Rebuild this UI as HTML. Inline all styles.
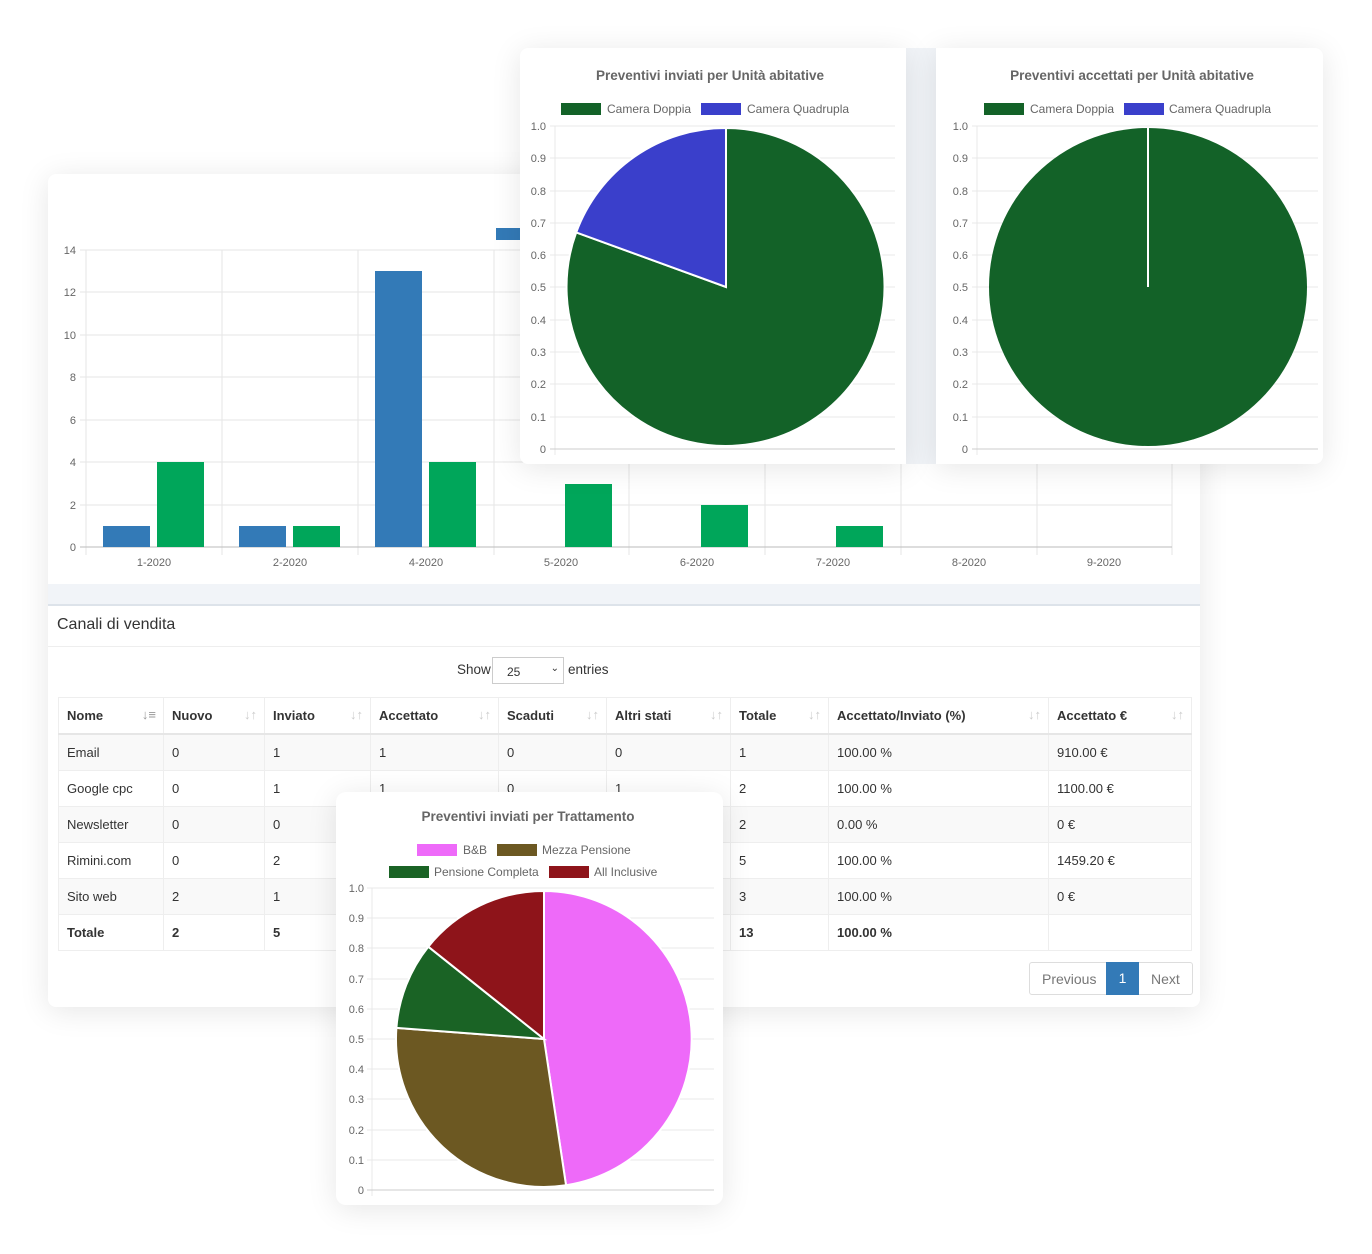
<!DOCTYPE html>
<html><head><meta charset="utf-8"><style>
body{margin:0;width:1372px;height:1254px;background:#fff;position:relative;overflow:hidden;font-family:"Liberation Sans",sans-serif}
.card{position:absolute;background:#fff;border-radius:10px;box-shadow:0 4px 30px rgba(0,0,0,0.10)}
svg text{font-family:"Liberation Sans",sans-serif}
table{border-collapse:collapse;position:absolute;left:10px;top:93px;font-size:13px;color:#333;table-layout:fixed;width:1133px}
td,th{border:1px solid #eee;padding:0 8px;height:35px;text-align:left;white-space:nowrap;overflow:hidden}
th{font-weight:bold;border-bottom:2px solid #e6e6e6;position:relative}
th span{position:absolute;right:7px;top:9px;color:#ccc;font-size:13px}
tr.s td{background:#f9f9f9}
</style></head><body>
<div class="card" style="left:48px;top:174px;width:1152px;height:833px;border-radius:8px">
<svg width="1152" height="410" style="position:absolute;left:0;top:0">
<g transform="translate(-48,-174)" font-size="11" fill="#666">
<rect x="496" y="228" width="26" height="12" fill="#337ab7"/>
<g stroke="#e6e6e6" stroke-width="1">
<line x1="80" y1="250" x2="1172" y2="250"/><line x1="80" y1="292" x2="1172" y2="292"/><line x1="80" y1="335" x2="1172" y2="335"/><line x1="80" y1="377" x2="1172" y2="377"/><line x1="80" y1="420" x2="1172" y2="420"/><line x1="80" y1="462" x2="1172" y2="462"/><line x1="80" y1="505" x2="1172" y2="505"/>
<line x1="222" y1="250" x2="222" y2="555"/><line x1="358" y1="250" x2="358" y2="555"/><line x1="494" y1="250" x2="494" y2="555"/><line x1="629" y1="250" x2="629" y2="555"/><line x1="765" y1="250" x2="765" y2="555"/><line x1="901" y1="250" x2="901" y2="555"/><line x1="1037" y1="250" x2="1037" y2="555"/><line x1="1172" y1="250" x2="1172" y2="555"/>
<line x1="86" y1="250" x2="86" y2="555"/>
</g>
<line x1="80" y1="547" x2="1172" y2="547" stroke="#bbb"/>
<g text-anchor="end"><text x="76" y="254">14</text><text x="76" y="296">12</text><text x="76" y="339">10</text><text x="76" y="381">8</text><text x="76" y="424">6</text><text x="76" y="466">4</text><text x="76" y="509">2</text><text x="76" y="551">0</text></g>
<g fill="#337ab7"><rect x="103" y="526" width="47" height="21"/><rect x="239" y="526" width="47" height="21"/><rect x="375" y="271" width="47" height="276"/></g>
<g fill="#00a65a"><rect x="157" y="462" width="47" height="85"/><rect x="293" y="526" width="47" height="21"/><rect x="429" y="462" width="47" height="85"/><rect x="565" y="484" width="47" height="63"/><rect x="701" y="505" width="47" height="42"/><rect x="836" y="526" width="47" height="21"/></g>
<g text-anchor="middle"><text x="154" y="566">1-2020</text><text x="290" y="566">2-2020</text><text x="426" y="566">4-2020</text><text x="561" y="566">5-2020</text><text x="697" y="566">6-2020</text><text x="833" y="566">7-2020</text><text x="969" y="566">8-2020</text><text x="1104" y="566">9-2020</text></g>
</g></svg>
<div style="position:absolute;left:0;top:410px;width:1152px;height:20px;background:#f1f4f8;border-bottom:2px solid #dde3ea"></div>
<div style="position:absolute;left:9px;top:442px;font-size:16px;color:#333">Canali di vendita</div>
<div style="position:absolute;left:0;top:472px;width:1152px;border-top:1px solid #eee"></div>
<div style="position:absolute;left:409px;top:488px;font-size:13.5px;color:#333">Show</div>
<div style="position:absolute;left:444px;top:483px;width:72px;height:27px;border:1px solid #ccc;box-sizing:border-box;font-size:12px;color:#333;padding:7px 0 0 14px">25<span style="position:absolute;right:4px;top:5px;font-size:10px">&#8964;</span></div>
<div style="position:absolute;left:520px;top:488px;font-size:13.5px;color:#333">entries</div>
<table style="top:523px">
<colgroup><col style="width:105px"><col style="width:101px"><col style="width:106px"><col style="width:128px"><col style="width:108px"><col style="width:124px"><col style="width:98px"><col style="width:220px"><col style="width:143px"></colgroup>
<tr><th>Nome<span style="color:#999">↓≡</span></th><th>Nuovo<span>↓↑</span></th><th>Inviato<span>↓↑</span></th><th>Accettato<span>↓↑</span></th><th>Scaduti<span>↓↑</span></th><th>Altri stati<span>↓↑</span></th><th>Totale<span>↓↑</span></th><th>Accettato/Inviato (%)<span>↓↑</span></th><th>Accettato €<span>↓↑</span></th></tr>
<tr class="s"><td>Email</td><td>0</td><td>1</td><td>1</td><td>0</td><td>0</td><td>1</td><td>100.00 %</td><td>910.00 €</td></tr>
<tr><td>Google cpc</td><td>0</td><td>1</td><td>1</td><td>0</td><td>1</td><td>2</td><td>100.00 %</td><td>1100.00 €</td></tr>
<tr class="s"><td>Newsletter</td><td>0</td><td>0</td><td>0</td><td>0</td><td>2</td><td>2</td><td>0.00 %</td><td>0 €</td></tr>
<tr><td>Rimini.com</td><td>0</td><td>2</td><td>2</td><td>0</td><td>1</td><td>5</td><td>100.00 %</td><td>1459.20 €</td></tr>
<tr class="s"><td>Sito web</td><td>2</td><td>1</td><td>1</td><td>0</td><td>0</td><td>3</td><td>100.00 %</td><td>0 €</td></tr>
<tr style="font-weight:bold"><td>Totale</td><td>2</td><td>5</td><td>5</td><td>0</td><td>4</td><td>13</td><td>100.00 %</td><td></td></tr>
</table>
<div style="position:absolute;left:981px;top:788px;width:164px;height:33px;border:1px solid #ddd;border-radius:3px;font-size:14px;color:#777;box-sizing:border-box">
<span style="position:absolute;left:12px;top:8px">Previous</span>
<span style="position:absolute;left:76px;top:-1px;width:33px;height:33px;background:#337ab7;color:#fff;text-align:center;line-height:33px">1</span>
<span style="position:absolute;left:121px;top:8px">Next</span></div>
</div>

<div style="position:absolute;left:906px;top:48px;width:30px;height:416px;background:#f1f4f8"></div>
<div class="card" style="left:520px;top:48px;width:386px;height:416px;border-radius:8px 0 0 8px"></div>
<div class="card" style="left:936px;top:48px;width:387px;height:416px;border-radius:0 8px 8px 0"></div>
<div class="card" style="left:336px;top:792px;width:387px;height:413px"></div>
<svg width="1372" height="1254" style="position:absolute;left:0;top:0" font-size="11" fill="#666">
<text x="710" y="80" text-anchor="middle" font-weight="bold" font-size="13.5" fill="#666">Preventivi inviati per Unità abitative</text>
<g font-size="12"><rect x="561" y="103" width="40" height="12" fill="#136228"/><text x="607" y="113">Camera Doppia</text>
<rect x="701" y="103" width="40" height="12" fill="#3a3fcb"/><text x="747" y="113">Camera Quadrupla</text></g>
<g stroke="#e8e8e8"><line x1="550" y1="126" x2="895" y2="126"/><line x1="550" y1="158" x2="895" y2="158"/><line x1="550" y1="191" x2="895" y2="191"/><line x1="550" y1="223" x2="895" y2="223"/><line x1="550" y1="255" x2="895" y2="255"/><line x1="550" y1="287" x2="895" y2="287"/><line x1="550" y1="320" x2="895" y2="320"/><line x1="550" y1="352" x2="895" y2="352"/><line x1="550" y1="384" x2="895" y2="384"/><line x1="550" y1="417" x2="895" y2="417"/><line x1="555" y1="126" x2="555" y2="455"/></g>
<line x1="550" y1="449" x2="895" y2="449" stroke="#ccc"/>
<g text-anchor="end"><text x="546" y="130">1.0</text><text x="546" y="162">0.9</text><text x="546" y="195">0.8</text><text x="546" y="227">0.7</text><text x="546" y="259">0.6</text><text x="546" y="291">0.5</text><text x="546" y="324">0.4</text><text x="546" y="356">0.3</text><text x="546" y="388">0.2</text><text x="546" y="421">0.1</text><text x="546" y="453">0</text></g>
<path d="M726,287 L726,128 A159,159 0 1 1 576.2,232.4 Z" fill="#136228" stroke="#fff" stroke-width="2"/>
<path d="M726,287 L576.2,232.4 A159,159 0 0 1 726,128 Z" fill="#3a3fcb" stroke="#fff" stroke-width="2"/>
<text x="1132" y="80" text-anchor="middle" font-weight="bold" font-size="13.5" fill="#666">Preventivi accettati per Unità abitative</text>
<g font-size="12"><rect x="984" y="103" width="40" height="12" fill="#136228"/><text x="1030" y="113">Camera Doppia</text>
<rect x="1124" y="103" width="40" height="12" fill="#3a3fcb"/><text x="1169" y="113">Camera Quadrupla</text></g>
<g stroke="#e8e8e8"><line x1="972" y1="126" x2="1318" y2="126"/><line x1="972" y1="158" x2="1318" y2="158"/><line x1="972" y1="191" x2="1318" y2="191"/><line x1="972" y1="223" x2="1318" y2="223"/><line x1="972" y1="255" x2="1318" y2="255"/><line x1="972" y1="287" x2="1318" y2="287"/><line x1="972" y1="320" x2="1318" y2="320"/><line x1="972" y1="352" x2="1318" y2="352"/><line x1="972" y1="384" x2="1318" y2="384"/><line x1="972" y1="417" x2="1318" y2="417"/><line x1="977" y1="126" x2="977" y2="455"/></g>
<line x1="972" y1="449" x2="1318" y2="449" stroke="#ccc"/>
<g text-anchor="end"><text x="968" y="130">1.0</text><text x="968" y="162">0.9</text><text x="968" y="195">0.8</text><text x="968" y="227">0.7</text><text x="968" y="259">0.6</text><text x="968" y="291">0.5</text><text x="968" y="324">0.4</text><text x="968" y="356">0.3</text><text x="968" y="388">0.2</text><text x="968" y="421">0.1</text><text x="968" y="453">0</text></g>
<circle cx="1148" cy="287" r="159" fill="#136228"/>
<line x1="1148" y1="128" x2="1148" y2="287" stroke="#fff" stroke-width="2"/>
<text x="528" y="821" text-anchor="middle" font-weight="bold" font-size="13.5" fill="#666">Preventivi inviati per Trattamento</text>
<g font-size="12"><rect x="417" y="844" width="40" height="12" fill="#ee6af9"/><text x="463" y="854">B&amp;B</text>
<rect x="497" y="844" width="40" height="12" fill="#6c5822"/><text x="542" y="854">Mezza Pensione</text>
<rect x="389" y="866" width="40" height="12" fill="#1a6325"/><text x="434" y="876">Pensione Completa</text>
<rect x="549" y="866" width="40" height="12" fill="#8e141a"/><text x="594" y="876">All Inclusive</text></g>
<g stroke="#e8e8e8"><line x1="367" y1="888" x2="714" y2="888"/><line x1="367" y1="918" x2="714" y2="918"/><line x1="367" y1="948" x2="714" y2="948"/><line x1="367" y1="979" x2="714" y2="979"/><line x1="367" y1="1009" x2="714" y2="1009"/><line x1="367" y1="1039" x2="714" y2="1039"/><line x1="367" y1="1069" x2="714" y2="1069"/><line x1="367" y1="1099" x2="714" y2="1099"/><line x1="367" y1="1130" x2="714" y2="1130"/><line x1="367" y1="1160" x2="714" y2="1160"/><line x1="372" y1="888" x2="372" y2="1196"/></g>
<line x1="367" y1="1190" x2="714" y2="1190" stroke="#ccc"/>
<g text-anchor="end"><text x="364" y="892">1.0</text><text x="364" y="922">0.9</text><text x="364" y="952">0.8</text><text x="364" y="983">0.7</text><text x="364" y="1013">0.6</text><text x="364" y="1043">0.5</text><text x="364" y="1073">0.4</text><text x="364" y="1103">0.3</text><text x="364" y="1134">0.2</text><text x="364" y="1164">0.1</text><text x="364" y="1194">0</text></g>
<g stroke="#fff" stroke-width="2">
<path d="M544,1039 L544,891 A148,148 0 0 1 566.05,1185.3 Z" fill="#ee6af9"/>
<path d="M544,1039 L566.05,1185.3 A148,148 0 0 1 396.4,1027.9 Z" fill="#6c5822"/>
<path d="M544,1039 L396.4,1027.9 A148,148 0 0 1 428.3,946.7 Z" fill="#1a6325"/>
<path d="M544,1039 L428.3,946.7 A148,148 0 0 1 544,891 Z" fill="#8e141a"/>
</g>
</svg>
</body></html>
